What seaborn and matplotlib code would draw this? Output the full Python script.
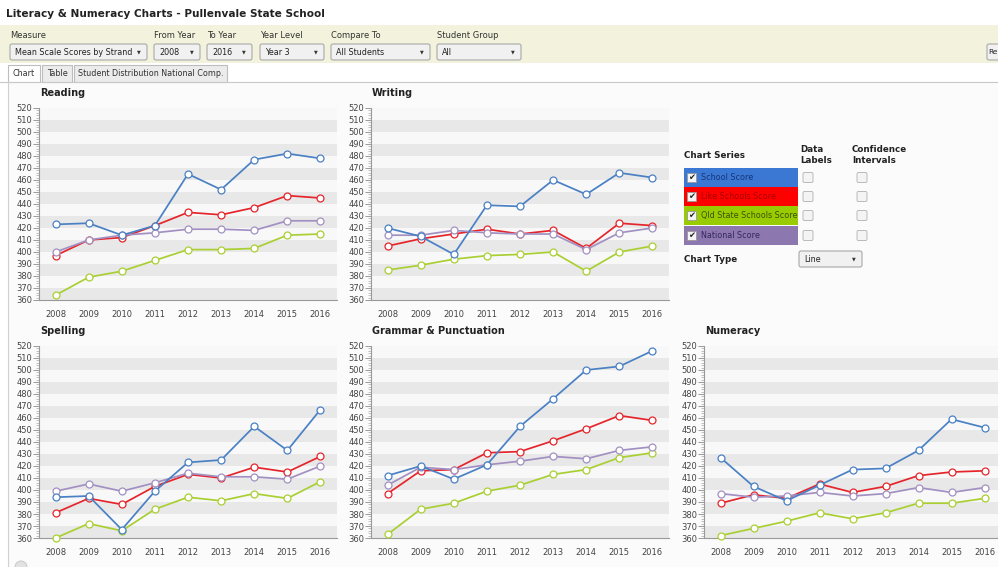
import matplotlib
matplotlib.use("Agg")
import matplotlib.pyplot as plt
from matplotlib.patches import Rectangle, FancyBboxPatch, Circle
import numpy as np
import pandas as pd
import seaborn as sns

W, H = 998, 567

years = [2008, 2009, 2010, 2011, 2012, 2013, 2014, 2015, 2016]
series_names = ["School Score", "Like Schools Score", "Qld State Schools Score", "National Score"]
line_colors = ["#4a80c4", "#e4262c", "#a9cf32", "#a290c2"]
box_colors = ["#3b78d4", "#ff0000", "#99cc00", "#8c78ae"]
box_text_colors = ["#17357a", "#a80000", "#3b5200", "#33285a"]

# order of each block: school, like schools, qld state, national
reading = [[423, 424, 414, 422, 465, 452, 477, 482, 478],
           [397, 410, 412, 422, 433, 431, 437, 447, 445],
           [364, 379, 384, 393, 402, 402, 403, 414, 415],
           [400, 410, 414, 416, 419, 419, 418, 426, 426]]
writing = [[420, 413, 398, 439, 438, 460, 448, 466, 462],
           [405, 411, 415, 419, 415, 418, 403, 424, 422],
           [385, 389, 394, 397, 398, 400, 384, 400, 405],
           [414, 414, 418, 416, 415, 415, 402, 416, 420]]
spelling = [[394, 395, 367, 399, 423, 425, 453, 433, 467],
            [381, 393, 388, 403, 413, 410, 419, 415, 428],
            [360, 372, 366, 384, 394, 391, 397, 393, 407],
            [399, 405, 399, 406, 414, 411, 411, 409, 420]]
grammar = [[412, 420, 409, 421, 453, 476, 500, 503, 516],
           [397, 416, 417, 431, 432, 441, 451, 462, 458],
           [363, 384, 389, 399, 404, 413, 417, 427, 431],
           [404, 419, 417, 421, 424, 428, 426, 433, 436]]
numeracy = [[427, 403, 391, 404, 417, 418, 433, 459, 452],
            [389, 396, 393, 405, 398, 403, 412, 415, 416],
            [362, 368, 374, 381, 376, 381, 389, 389, 393],
            [397, 394, 395, 398, 395, 397, 402, 398, 402]]

sns.set_style("white")
plt.rcParams["font.family"] = ["DejaVu Sans"]

fig = plt.figure(figsize=(W / 100, H / 100), dpi=100)

def px_rect(x0, y0, x1, y1):
    return [x0 / W, 1 - y1 / H, (x1 - x0) / W, (y1 - y0) / H]

# background layer in pixel coords
bg = fig.add_axes([0, 0, 1, 1])
bg.set_xlim(0, W)
bg.set_ylim(H, 0)
bg.axis("off")

def dropdown(x0, x1, y0, y1, label):
    bg.add_patch(FancyBboxPatch((x0, y0), x1 - x0, y1 - y0,
                                boxstyle="round,pad=0,rounding_size=2",
                                fc="#f1f1f1", ec="#a8a8a8", lw=0.8))
    bg.text(x0 + 5, (y0 + y1) / 2 + 0.5, label, fontsize=5.8, color="#222",
            va="center", ha="left")
    bg.text(x1 - 8, (y0 + y1) / 2, "\u25bc", fontsize=3.5, color="#333",
            va="center", ha="center")

bg.text(6, 14, "Literacy & Numeracy Charts - Pullenvale State School",
        fontsize=7.6, fontweight="bold", color="#222", va="center")
bg.add_patch(Rectangle((0, 25), W, 38, fc="#f3f3dd", ec="none"))

controls = [("Measure", 10, 147, "Mean Scale Scores by Strand"),
            ("From Year", 154, 200, "2008"),
            ("To Year", 207, 252, "2016"),
            ("Year Level", 260, 324, "Year 3"),
            ("Compare To", 331, 430, "All Students"),
            ("Student Group", 437, 521, "All")]
for lab, x0, x1, val in controls:
    bg.text(x0, 35, lab, fontsize=6, color="#333", va="center")
    dropdown(x0, x1, 44, 60, val)
bg.add_patch(FancyBboxPatch((987, 44), 15, 16, boxstyle="round,pad=0,rounding_size=2",
                            fc="#f1f1f1", ec="#a8a8a8", lw=0.8))
bg.text(988.5, 52.5, "Re", fontsize=5.4, color="#222", va="center")

# tabs
bg.add_patch(Rectangle((8, 82), W, H, fc="#fbfbfb", ec="none"))
bg.plot([0, W], [81.5, 81.5], color="#c8c8c8", lw=0.8)
bg.plot([8, 8], [82, H], color="#d0d0d0", lw=0.8)
tabs = [("Chart", 8, 40, "#ffffff"), ("Table", 42, 72, "#ececec"),
        ("Student Distribution National Comp.", 74, 227, "#ececec")]
for lab, x0, x1, fc in tabs:
    bg.add_patch(Rectangle((x0, 65), x1 - x0, 17, fc=fc, ec="#bdbdbd", lw=0.8))
    bg.text((x0 + x1) / 2, 73.5, lab, fontsize=5.8, color="#333", ha="center", va="center")
bg.add_patch(Circle((21, 567), 6, fc="#e2e2e2", ec="#c4c4c4", lw=0.6))

# chart series panel
bg.text(684, 155, "Chart Series", fontsize=6.3, fontweight="bold", color="#222", va="center")
bg.text(800, 155, "Data\nLabels", fontsize=6.3, fontweight="bold", color="#222",
        va="center", linespacing=1.25)
bg.text(852, 155, "Confidence\nIntervals", fontsize=6.3, fontweight="bold", color="#222",
        va="center", linespacing=1.25)
rows_y = [168, 187, 206, 226]
for name, bc, tc, y in zip(series_names, box_colors, box_text_colors, rows_y):
    bg.add_patch(Rectangle((684, y), 114, 18.5, fc=bc, ec="none"))
    bg.add_patch(Rectangle((687, y + 4.5), 9.5, 9.5, fc="#f4f4f4", ec="#999", lw=0.6))
    bg.text(691.8, y + 9.5, "\u2714", fontsize=6, color="#222", ha="center", va="center")
    bg.text(701, y + 9.5, name, fontsize=5.8, color=tc, va="center")
    for cx in (803, 857):
        bg.add_patch(FancyBboxPatch((cx, y + 4.5), 10, 10,
                                    boxstyle="round,pad=0,rounding_size=1.5",
                                    fc="#f4f4f4", ec="#b0b0b0", lw=0.6))
bg.text(684, 259, "Chart Type", fontsize=6.3, fontweight="bold", color="#222", va="center")
dropdown(799, 862, 251, 267, "Line")

# chart panels
def draw_panel(rect, title, values, title_y):
    ax = fig.add_axes(px_rect(*rect))
    ax.set_facecolor("#f8f8f8")
    for lo in range(360, 510, 20):
        ax.axhspan(lo, lo + 10, color="#e8e8e8", lw=0, zorder=0)
    df = pd.DataFrame({"year": years * 4,
                       "score": np.concatenate(values),
                       "series": np.repeat(series_names, len(years))})
    for i in [1, 2, 3, 0]:
        sub = df[df["series"] == series_names[i]]
        sns.lineplot(data=sub, x="year", y="score", ax=ax, color=line_colors[i],
                     lw=1.25, marker="o", markersize=5, markerfacecolor="white",
                     markeredgecolor=line_colors[i], markeredgewidth=0.9,
                     legend=False, zorder=3, clip_on=False)
    ax.set_xlim(2007.5, 2016.5)
    ax.set_ylim(360, 520)
    ax.set_xticks(years)
    ax.set_xticks(np.array(years) - 0.5, minor=True)
    ax.set_yticks(range(360, 521, 10))
    ax.set_yticks(range(360, 521, 2), minor=True)
    ax.tick_params(axis="x", which="major", length=0, pad=7, labelsize=6, labelcolor="#444")
    ax.tick_params(axis="x", which="minor", length=5, width=0.7, color="#999", direction="out")
    ax.tick_params(axis="y", which="major", length=4, width=0.7, color="#999", pad=1,
                   labelsize=6, labelcolor="#444", left=True)
    ax.tick_params(axis="y", which="minor", length=2, width=0.5, color="#aaa", left=True)
    ax.set_xlabel("")
    ax.set_ylabel("")
    for s in ["top", "right"]:
        ax.spines[s].set_visible(False)
    for s in ["left", "bottom"]:
        ax.spines[s].set_color("#999")
        ax.spines[s].set_linewidth(0.8)
    bg.text(rect[0] + 1, title_y, title, fontsize=7, fontweight="bold", color="#222", va="center")

draw_panel((39, 108, 337, 300), "Reading", reading, 93)
draw_panel((371, 108, 669, 300), "Writing", writing, 93)
draw_panel((39, 346, 337, 538), "Spelling", spelling, 331)
draw_panel((371, 346, 669, 538), "Grammar & Punctuation", grammar, 331)
draw_panel((704, 346, 1001, 538), "Numeracy", numeracy, 331)

fig.savefig("out.png", dpi=100, facecolor="white")
